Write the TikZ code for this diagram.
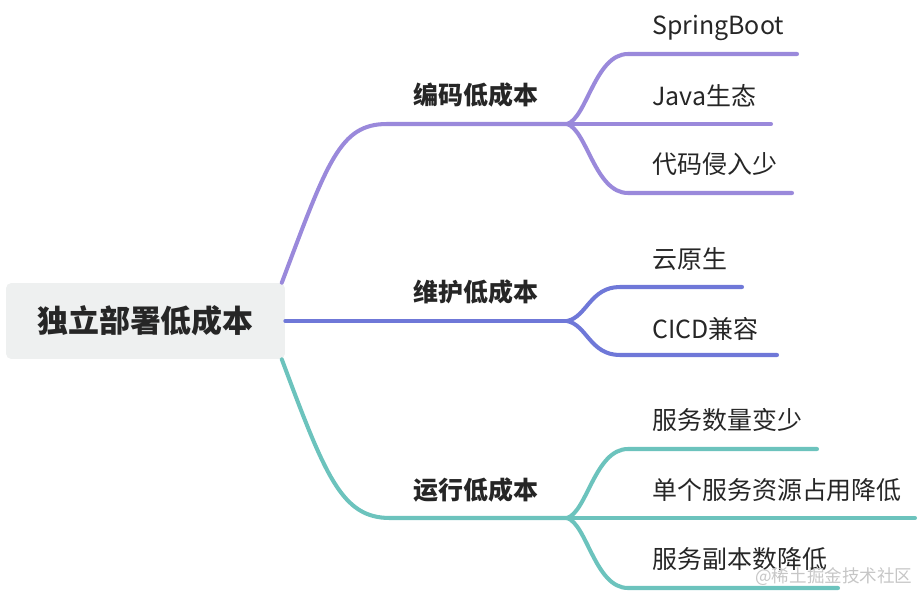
\documentclass[tikz,border=0pt]{standalone}
\usepackage{fontspec}
\setmainfont{Noto Sans CJK SC}
\usetikzlibrary{positioning}

\definecolor{purpleline}{HTML}{9A89DB}
\definecolor{blueline}{HTML}{6F78D8}
\definecolor{tealline}{HTML}{6CC3BD}
\definecolor{textcol}{HTML}{262626}
\definecolor{topicfill}{HTML}{EEF0F0}

\begin{document}
\begin{tikzpicture}[
    x=0.02cm, y=-0.02cm,
    topic/.style={fill=topicfill, rounded corners=3pt, minimum width=5.58cm, minimum height=1.52cm, inner sep=0pt,
        text=textcol, font=\fontsize{17.6pt}{21pt}\selectfont\bfseries},
    leaf/.style={anchor=west, inner sep=0pt, text height=0.88em, text depth=0.12em,
        text=textcol, font=\fontsize{14.2pt}{17pt}\selectfont},
    branch/.style={leaf, font=\fontsize{14.2pt}{17pt}\selectfont\bfseries},
    edge/.style={line width=2.3pt, line cap=round},
    purpleedge/.style={edge, draw=purpleline},
    blueedge/.style={edge, draw=blueline},
    tealedge/.style={edge, draw=tealline},
    mark label/.style={anchor=west, inner sep=0pt, text=gray!45, font=\fontsize{10pt}{12pt}\selectfont},
]

\useasboundingbox (0,0) rectangle (920,592);

% Main topic
\node[topic] (main) at (145.5,321) {独立部署低成本};

% Fork points and line ends
\coordinate (f1) at (567,124);
\coordinate (f2) at (567,321);
\coordinate (f3) at (567,518);

% Branch 1: coding
\node[branch] (coding) at (413,98) {编码低成本};
\draw[purpleedge] ([xshift=-2pt]main.north east) .. controls +(46,-122) and +(-47,0) .. (387,124) -- (f1);
\node[leaf] (spring) at (652,28) {SpringBoot};
\node[leaf] (java) at (652,99) {Java生态};
\node[leaf] (invade) at (652,167) {代码侵入少};
\coordinate (e11) at (797,54);
\coordinate (e12) at (771,124);
\coordinate (e13) at (792,193);
\draw[purpleedge] (f1) .. controls +(20,-6) and +(-33,0) .. (628,54) -- (e11);
\draw[purpleedge] (f1) -- (e12);
\draw[purpleedge] (f1) .. controls +(20,6) and +(-33,0) .. (628,193) -- (e13);

% Branch 2: maintenance
\node[branch] (maintain) at (413,295) {维护低成本};
\draw[blueedge] (main.east) -- (f2);
\node[leaf] (cloud) at (652,262) {云原生};
\node[leaf] (cicd) at (652,332) {CICD兼容};
\coordinate (e21) at (742,287);
\coordinate (e22) at (777,355);
\draw[blueedge] (f2) .. controls +(20,-4) and +(-30,0) .. (620,287) -- (e21);
\draw[blueedge] (f2) .. controls +(20,4) and +(-30,0) .. (620,355) -- (e22);

% Branch 3: running
\node[branch] (running) at (413,493) {运行低成本};
\draw[tealedge] ([xshift=-2pt]main.south east) .. controls +(44,118) and +(-48,0) .. (390,518) -- (f3);
\node[leaf] (fewer) at (652,423) {服务数量变少};
\node[leaf] (single) at (652,493) {单个服务资源占用降低};
\node[leaf] (replica) at (652,562) {服务副本数降低};
\coordinate (e31) at (817,449);
\coordinate (e32) at (915,518);
\coordinate (e33) at (838,588);
\draw[tealedge] (f3) .. controls +(20,-6) and +(-33,0) .. (628,449) -- (e31);
\draw[tealedge] (f3) -- (e32);
\draw[tealedge] (f3) .. controls +(20,6) and +(-33,0) .. (628,588) -- (e33);

% Watermark
\node[mark label] (mark) at (755,577) {@稀土掘金技术社区};

\end{tikzpicture}
\end{document}
